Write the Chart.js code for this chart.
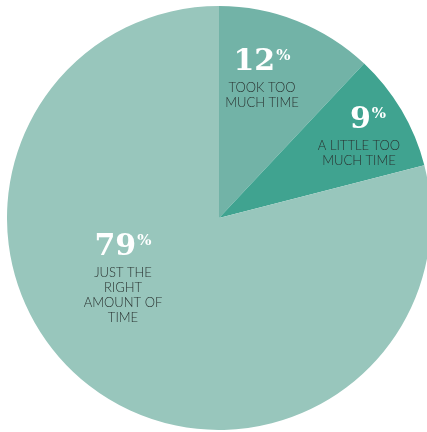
<!DOCTYPE html>
<html><head><meta charset="utf-8">
<script src="https://cdn.jsdelivr.net/npm/chart.js@4.4.0/dist/chart.umd.min.js"></script>
<style>
html,body{margin:0;padding:0;background:#fff;overflow:hidden;width:427px;height:432px;}
#wrap{position:absolute;left:7px;top:6px;width:424px;height:424px;}
</style></head><body>
<div id="wrap"><canvas id="c"></canvas></div>
<script>
const categories = ["TOOK TOO MUCH TIME", "A LITTLE TOO MUCH TIME", "JUST THE RIGHT AMOUNT OF TIME"];
const values = [12, 9, 79];
const labelLines = [["TOOK TOO", "MUCH TIME"], ["A LITTLE TOO", "MUCH TIME"], ["JUST THE", "RIGHT", "AMOUNT OF", "TIME"]];
const colors = ["#72b3a7", "#40a390", "#98c6bc"];
// label anchor offsets (px) from pie centre: [text centre x, number baseline, number x shift]
const labelAnchors = [[43, -148, 0], [140, -90, 9], [-96, 37, 0]];

const labelPlugin = {
  id: 'sliceLabels',
  afterDatasetsDraw(chart) {
    const ctx = chart.ctx;
    const meta = chart.getDatasetMeta(0);
    meta.data.forEach((arc, i) => {
      const cx = arc.x + labelAnchors[i][0];
      const by = arc.y + labelAnchors[i][1];
      ctx.save();
      const num = String(values[i]);
      ctx.font = 'bold 30px "DejaVu Serif"';
      const nw = ctx.measureText(num).width;
      ctx.font = 'bold 15px "DejaVu Serif"';
      const pw = ctx.measureText('%').width;
      const total = nw + pw + 1;
      const x0 = cx + labelAnchors[i][2] - total / 2;
      ctx.fillStyle = '#ffffff';
      ctx.textBaseline = 'alphabetic';
      ctx.textAlign = 'left';
      ctx.font = 'bold 30px "DejaVu Serif"';
      ctx.fillText(num, x0, by);
      ctx.font = 'bold 15px "DejaVu Serif"';
      ctx.fillText('%', x0 + nw + 1, by - 10);
      ctx.font = '300 13px Lato';
      ctx.fillStyle = '#2a3331';
      ctx.textAlign = 'center';
      labelLines[i].forEach((ln, k) => {
        ctx.fillText(ln, cx, by + 22 + k * 15);
      });
      ctx.restore();
    });
  }
};

new Chart(document.getElementById('c'), {
  type: 'pie',
  data: {
    labels: categories,
    datasets: [{ data: values, backgroundColor: colors, borderWidth: 0 }]
  },
  options: {
    responsive: true,
    maintainAspectRatio: false,
    animation: false,
    layout: { padding: 0 },
    plugins: { legend: { display: false }, tooltip: { enabled: false } }
  },
  plugins: [labelPlugin]
});
</script>
</body></html>
